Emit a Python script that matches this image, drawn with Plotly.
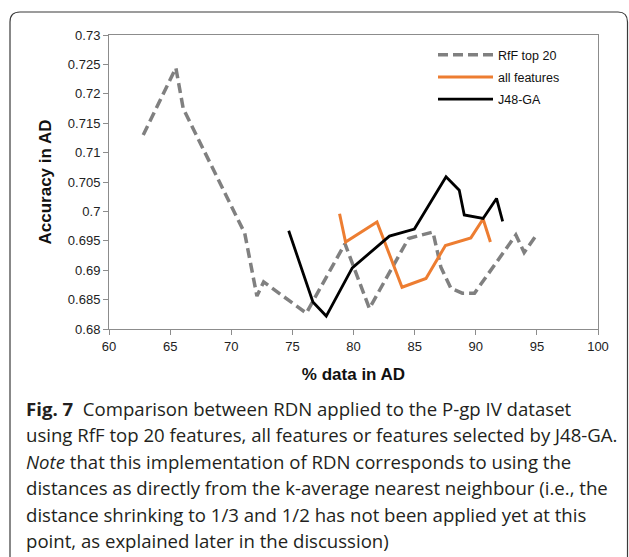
import plotly.graph_objects as go

# ---- data ----
rff_x = [62.8, 65.47, 66.07, 71.1, 72.1, 72.65, 76.14, 79.3, 81.3, 84.5, 86.5, 87.15, 87.97, 88.9, 89.9, 93.28, 93.96, 94.9]
rff_y = [0.7130, 0.7244, 0.7175, 0.6963, 0.6856, 0.6880, 0.6827, 0.6945, 0.6835, 0.6954, 0.6965, 0.6905, 0.6869, 0.6861, 0.6861, 0.6960, 0.6930, 0.6958]

all_x = [78.86, 79.35, 81.92, 83.97, 85.93, 87.52, 89.6, 90.6, 91.2]
all_y = [0.6996, 0.6948, 0.6982, 0.6871, 0.6886, 0.6942, 0.6955, 0.6987, 0.6948]

j48_x = [74.7, 76.68, 77.77, 79.9, 82.94, 84.98, 87.57, 88.65, 89.06, 90.6, 91.7, 92.2]
j48_y = [0.6967, 0.6846, 0.6822, 0.6904, 0.6958, 0.6970, 0.7059, 0.7036, 0.6994, 0.6988, 0.7022, 0.6983]

series_names = ["RfF top 20", "all features", "J48-GA"]

y_tickvals = [0.68, 0.685, 0.69, 0.695, 0.7, 0.705, 0.71, 0.715, 0.72, 0.725, 0.73]
y_ticktext = ["0.68", "0.685", "0.69", "0.695", "0.7", "0.705", "0.71", "0.715", "0.72", "0.725", "0.73"]
x_tickvals = [60, 65, 70, 75, 80, 85, 90, 95, 100]

x_title = "% data in AD"
y_title = "Accuracy in AD"

caption_lines = [
    "<b>Fig. 7</b>  Comparison between RDN applied to the P-gp IV dataset",
    "using RfF top 20 features, all features or features selected by J48-GA.",
    "<i>Note</i> that this implementation of RDN corresponds to using the",
    "distances as directly from the k-average nearest neighbour (i.e., the",
    "distance shrinking to 1/3 and 1/2 has not been applied yet at this",
    "point, as explained later in the discussion)",
]

# ---- layout geometry (pixels) ----
W, H = 629, 557
L, R, T, B = 109, 598, 35, 329
pw, ph = R - L, B - T
ARIAL = "Liberation Sans"


def px2x(px):
    return (px - L) / pw


def py2y(py):
    return (B - py) / ph


fig = go.Figure()
fig.add_trace(go.Scatter(x=rff_x, y=rff_y, mode="lines", name=series_names[0],
                         line=dict(color="#808080", width=3.5, dash="10px,5px"),
                         legendgroup="a"))
fig.add_trace(go.Scatter(x=all_x, y=all_y, mode="lines", name=series_names[1],
                         line=dict(color="#ED7D31", width=3), legendgroup="b"))
fig.add_trace(go.Scatter(x=j48_x, y=j48_y, mode="lines", name=series_names[2],
                         line=dict(color="#000000", width=2.8), legendgroup="c"))

annotations = []
caption_y = [408, 434.5, 461, 487.5, 514, 540.5]
for txt, yy in zip(caption_lines, caption_y):
    annotations.append(dict(text=txt, xref="paper", yref="paper", x=px2x(24), y=py2y(yy),
                            xanchor="left", yanchor="middle", showarrow=False,
                            font=dict(family="Open Sans", size=18.6, color="#231f20")))

frame_path = "M {x0},{yb} L {x0},{y1} Q {x0},{yt} {x2},{yt} L {x3},{yt} Q {x4},{yt} {x4},{y1} L {x4},{yb}".format(
    x0=px2x(10), x2=px2x(20), x3=px2x(618), x4=px2x(627.5),
    yt=py2y(12), y1=py2y(22), yb=py2y(560))

fig.update_layout(
    width=W, height=H,
    margin=dict(l=L, r=W - R, t=T, b=H - B),
    paper_bgcolor="white", plot_bgcolor="white",
    font=dict(family=ARIAL, size=13, color="#222222"),
    showlegend=True,
    legend=dict(x=px2x(433), y=py2y(40), xanchor="left", yanchor="top",
                bgcolor="rgba(0,0,0,0)", font=dict(family=ARIAL, size=12.5, color="#111111"),
                traceorder="grouped", tracegroupgap=3, itemwidth=55),
    xaxis=dict(range=[60, 100], tickvals=x_tickvals, showgrid=False, zeroline=False,
               showline=True, linecolor="#8c8c8c", linewidth=1, mirror=True,
               ticks="outside", ticklen=5, tickcolor="#8c8c8c",
               tickfont=dict(family=ARIAL, size=13, color="#222222"),
               title=dict(text="<b>" + x_title + "</b>", font=dict(family=ARIAL, size=17, color="#111111"), standoff=15)),
    yaxis=dict(range=[0.68, 0.73], tickvals=y_tickvals, ticktext=y_ticktext, showgrid=False,
               zeroline=False, showline=True, linecolor="#8c8c8c", linewidth=1, mirror=True,
               ticks="outside", ticklen=5, tickcolor="#8c8c8c",
               tickfont=dict(family=ARIAL, size=13, color="#222222"),
               title=dict(text="<b>" + y_title + "</b>", font=dict(family=ARIAL, size=17, color="#111111"), standoff=11)),
    annotations=annotations,
    shapes=[dict(type="path", path=frame_path, xref="paper", yref="paper",
                 line=dict(color="#3a3a3a", width=1.2))],
)

fig.write_html("out.html", config={"displayModeBar": False},
               post_script="document.body.style.margin='0';document.body.style.padding='0';")
